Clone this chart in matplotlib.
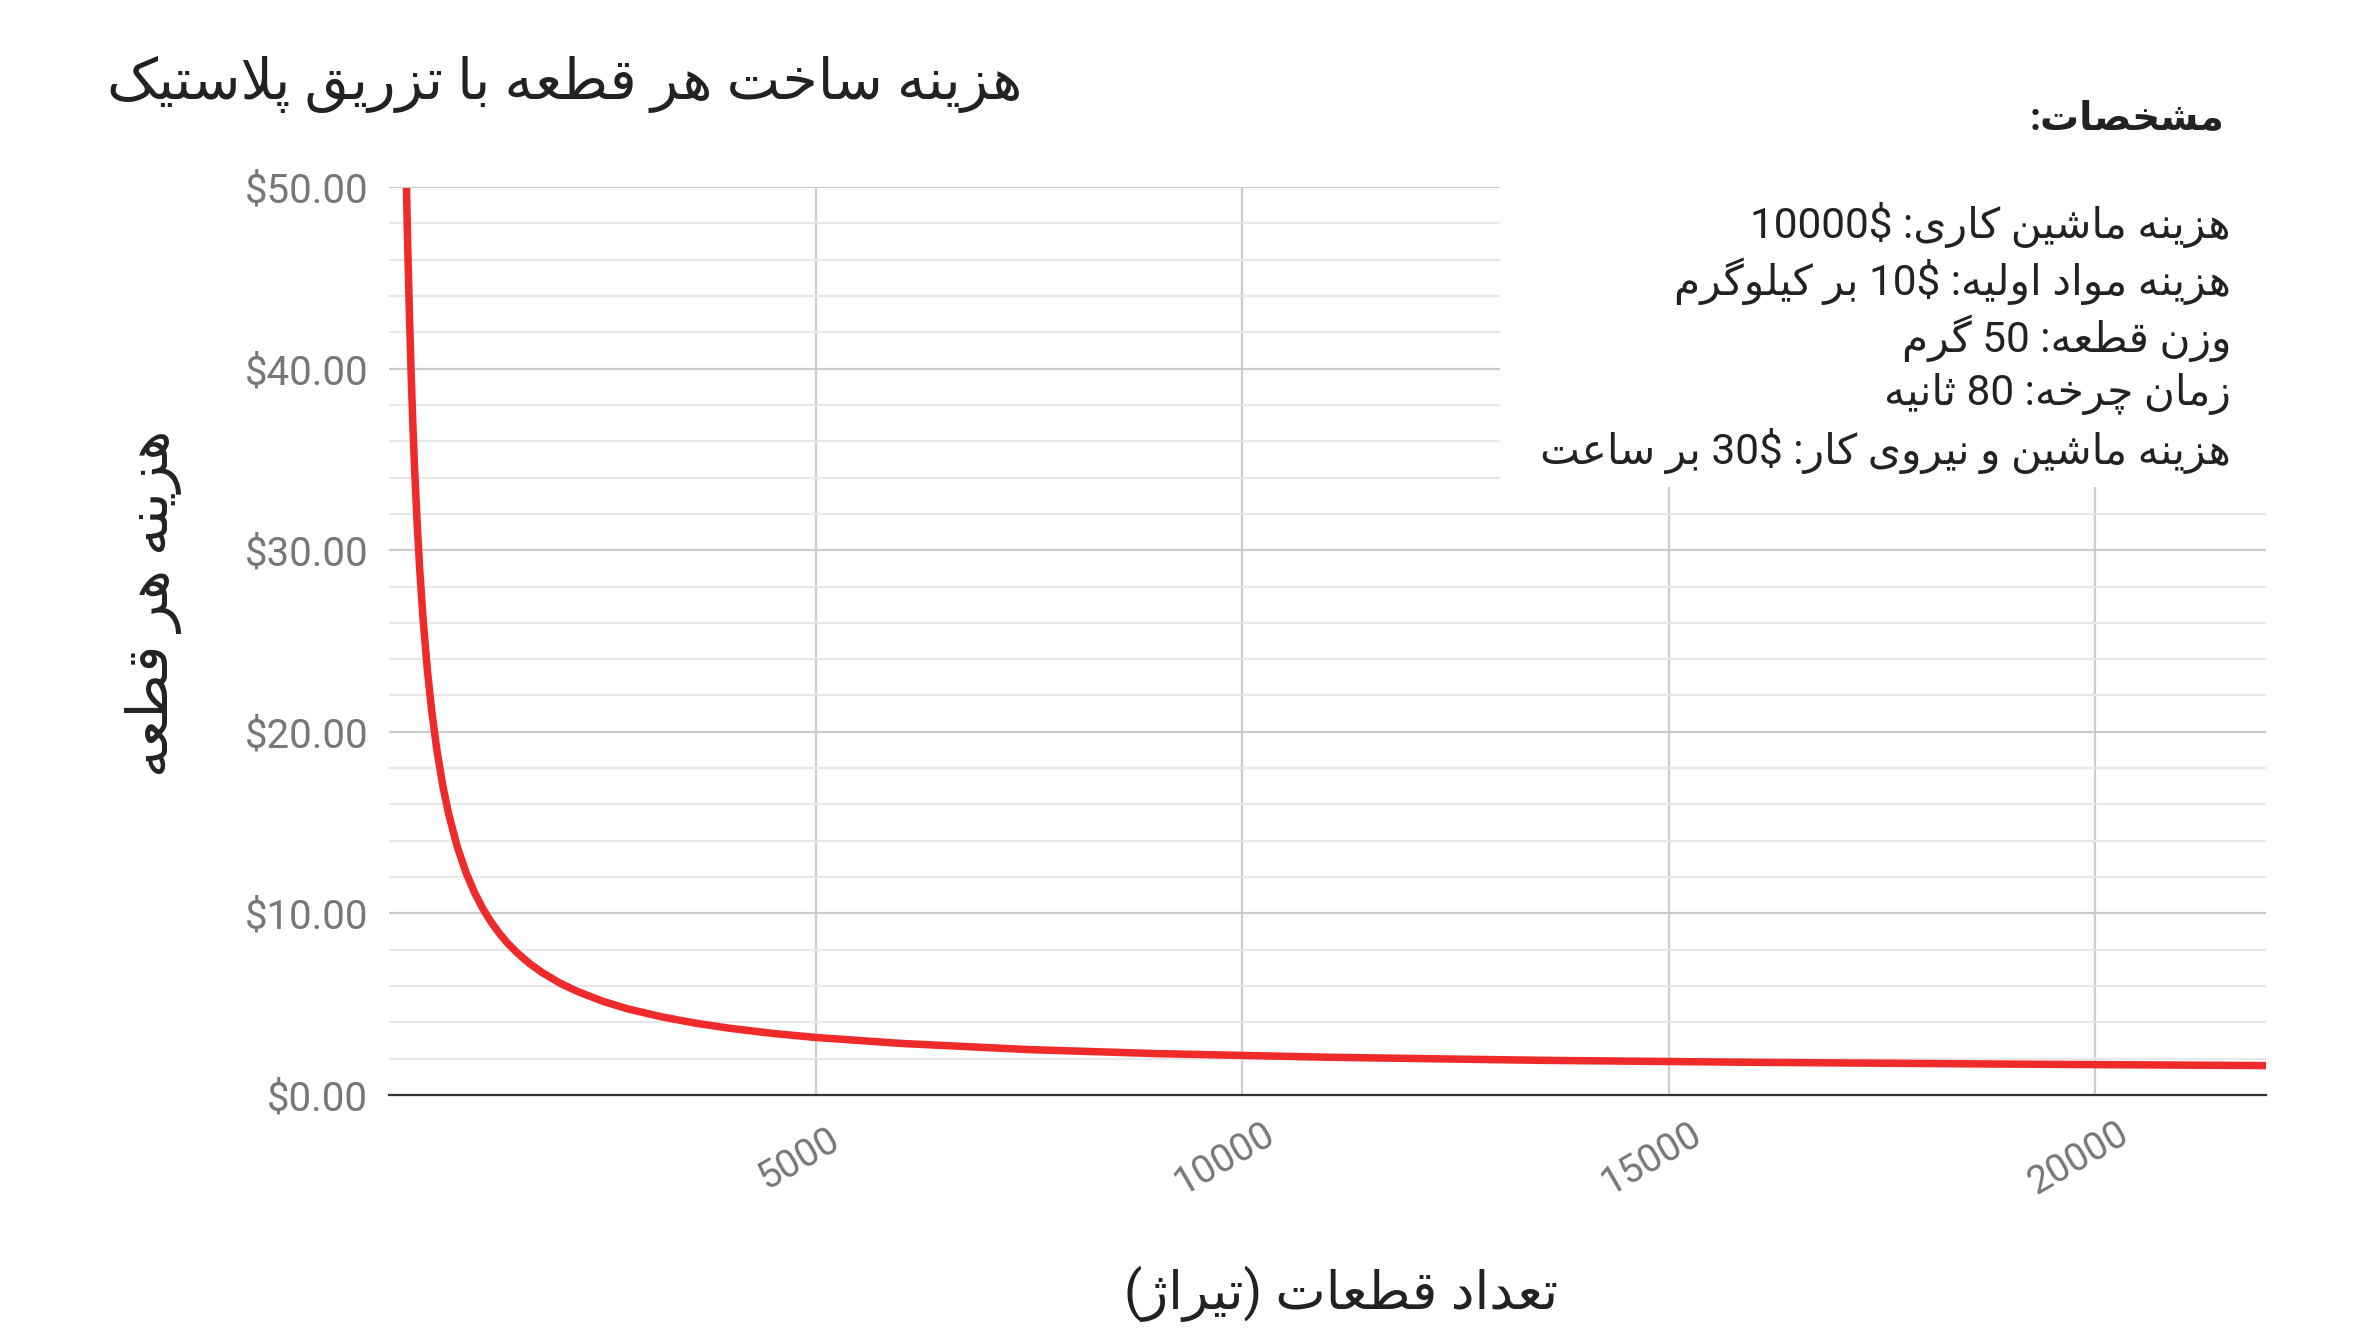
import re
import matplotlib
matplotlib.use("Agg")
import matplotlib.pyplot as plt
from matplotlib.patches import Rectangle
from matplotlib.ticker import MultipleLocator, FuncFormatter

plt.rcParams['font.family'] = ['Roboto', 'DejaVu Sans']

# data
run_sizes = [205, 220, 240, 260, 280, 300, 330, 360, 400, 450, 500, 560, 630, 700,
             800, 900, 1000, 1100, 1200, 1300, 1400, 1500, 1650, 1800, 2000, 2200,
             2500, 2800, 3200, 3600, 4000, 4500, 5000, 6000, 7500, 9000, 11000,
             13500, 16000, 19000, 22000]
unit_cost = [49.95, 46.62, 42.84, 39.63, 36.88, 34.50, 31.47, 28.95, 26.17, 23.39,
             21.17, 19.03, 17.04, 15.46, 13.67, 12.28, 11.17, 10.26, 9.50, 8.86,
             8.31, 7.84, 7.23, 6.73, 6.17, 5.72, 5.17, 4.74, 4.30, 3.95, 3.67,
             3.39, 3.17, 2.84, 2.50, 2.28, 2.08, 1.91, 1.80, 1.70, 1.62]
x_ticks = [5000, 10000, 15000, 20000]
y_ticks = [0, 10, 20, 30, 40, 50]

title = "هزینه ساخت هر قطعه با تزریق پلاستیک"
x_label = "تعداد قطعات (تیراژ)"
y_label = "هزینه هر قطعه"
spec_title = "مشخصات:"
spec_lines = [
    "هزینه ماشین کاری: 10000$",
    "هزینه مواد اولیه: 10$ بر کیلوگرم",
    "وزن قطعه: 50 گرم",
    "زمان چرخه: 80 ثانیه",
    "هزینه ماشین و نیروی کار: 30$ بر ساعت",
]

# --- minimal Persian shaping + right-to-left ordering (matplotlib has no CTL) ---
# isolated, final, initial, medial
FORMS = {
    'ا': ('\uFE8D', '\uFE8E', None, None),
    'ب': ('\uFE8F', '\uFE90', '\uFE91', '\uFE92'),
    'پ': ('\uFB56', '\uFB57', '\uFB58', '\uFB59'),
    'ت': ('\uFE95', '\uFE96', '\uFE97', '\uFE98'),
    'ث': ('\uFE99', '\uFE9A', '\uFE9B', '\uFE9C'),
    'ج': ('\uFE9D', '\uFE9E', '\uFE9F', '\uFEA0'),
    'چ': ('\uFB7A', '\uFB7B', '\uFB7C', '\uFB7D'),
    'ح': ('\uFEA1', '\uFEA2', '\uFEA3', '\uFEA4'),
    'خ': ('\uFEA5', '\uFEA6', '\uFEA7', '\uFEA8'),
    'د': ('\uFEA9', '\uFEAA', None, None),
    'ذ': ('\uFEAB', '\uFEAC', None, None),
    'ر': ('\uFEAD', '\uFEAE', None, None),
    'ز': ('\uFEAF', '\uFEB0', None, None),
    'ژ': ('\uFB8A', '\uFB8B', None, None),
    'س': ('\uFEB1', '\uFEB2', '\uFEB3', '\uFEB4'),
    'ش': ('\uFEB5', '\uFEB6', '\uFEB7', '\uFEB8'),
    'ص': ('\uFEB9', '\uFEBA', '\uFEBB', '\uFEBC'),
    'ط': ('\uFEC1', '\uFEC2', '\uFEC3', '\uFEC4'),
    'ع': ('\uFEC9', '\uFECA', '\uFECB', '\uFECC'),
    'ق': ('\uFED5', '\uFED6', '\uFED7', '\uFED8'),
    'ک': ('\uFB8E', '\uFB8F', '\uFB90', '\uFB91'),
    'گ': ('\uFB92', '\uFB93', '\uFB94', '\uFB95'),
    'ل': ('\uFEDD', '\uFEDE', '\uFEDF', '\uFEE0'),
    'م': ('\uFEE1', '\uFEE2', '\uFEE3', '\uFEE4'),
    'ن': ('\uFEE5', '\uFEE6', '\uFEE7', '\uFEE8'),
    'ه': ('\uFEE9', '\uFEEA', '\uFEEB', '\uFEEC'),
    'و': ('\uFEED', '\uFEEE', None, None),
    'ی': ('\uFBFC', '\uFBFD', '\uFBFE', '\uFBFF'),
}


def joins_next(c):
    return c in FORMS and FORMS[c][2] is not None


def shape(text):
    out = []
    i = 0
    while i < len(text):
        c = text[i]
        if c not in FORMS:
            out.append(c)
            i += 1
            continue
        conn_prev = i > 0 and joins_next(text[i - 1])
        if c == 'ل' and i + 1 < len(text) and text[i + 1] == 'ا':
            out.append('\uFEFC' if conn_prev else '\uFEFB')
            i += 2
            continue
        nxt = text[i + 1] if i + 1 < len(text) else ''
        conn_next = joins_next(c) and nxt in FORMS
        f = FORMS[c]
        if conn_prev and conn_next:
            out.append(f[3])
        elif conn_prev:
            out.append(f[1])
        elif conn_next:
            out.append(f[2])
        else:
            out.append(f[0])
        i += 1
    return ''.join(out)


def fa(text):
    vis = shape(text)[::-1]
    vis = re.sub(r'[0-9$.,]+', lambda m: m.group(0)[::-1], vis)
    return vis.translate(str.maketrans('()', ')('))


W, H = 2373, 1343
fig = plt.figure(figsize=(W / 100, H / 100), dpi=100)
fig.patch.set_facecolor('white')
ax = fig.add_axes([389 / W, 1 - 1095 / H, (2266 - 389) / W, (1095 - 187) / H])

ax.plot(run_sizes, unit_cost, color='#ee2a2a', lw=5.4, solid_capstyle='butt', zorder=3)
ax.set_xlim(0, 22000)
ax.set_ylim(0, 50)

ax.set_xticks(x_ticks)
ax.set_xticklabels([])
ax.set_yticks(y_ticks)
ax.yaxis.set_minor_locator(MultipleLocator(2))
ax.yaxis.set_major_formatter(FuncFormatter(lambda v, p: f"${v:.2f}"))
ax.tick_params(axis='both', which='both', length=0)
ax.tick_params(axis='y', labelsize=29, labelcolor='#777777', pad=15)

ax.set_axisbelow(True)
ax.grid(True, which='major', axis='both', color='#cccccc', lw=1.6)
ax.grid(True, which='minor', axis='y', color='#e8e8e8', lw=1.6)
for side in ['top', 'right', 'left']:
    ax.spines[side].set_visible(False)
ax.spines['bottom'].set_color('#333333')
ax.spines['bottom'].set_linewidth(1.6)
ax.spines['bottom'].set_zorder(4)

for t in x_ticks:
    ax.annotate(str(t), xy=(t, 0), xycoords=('data', 'axes fraction'),
                xytext=(-17, -64), textcoords='offset pixels',
                rotation=30, ha='center', va='center', fontsize=28, color='#777777')

# white panel behind the specification block
fig.add_artist(Rectangle((1500 / W, 1 - 487 / H), (2300 - 1500) / W, (487 - 150) / H,
                         transform=fig.transFigure, facecolor='white',
                         edgecolor='none', zorder=1))

fig.text(107 / W, 1 - 84 / H, fa(title), ha='left', va='center',
         fontsize=41, color='#222222')
fig.text(2225 / W, 1 - 119 / H, fa(spec_title), ha='right', va='center',
         fontsize=28, fontweight='bold', color='#222222', zorder=5)
for k, line in enumerate(spec_lines):
    fig.text(2231 / W, 1 - (225 + 56.5 * k) / H, fa(line), ha='right', va='center',
             fontsize=30.5, color='#222222', zorder=5)

fig.text(1341 / W, 1 - 1294 / H, fa(x_label), ha='center', va='center',
         fontsize=38.5, color='#222222')
fig.text(153 / W, 1 - 603 / H, fa(y_label), ha='center', va='center',
         rotation=90, fontsize=41, color='#222222')

fig.savefig('out.png', dpi=100, facecolor='white')
